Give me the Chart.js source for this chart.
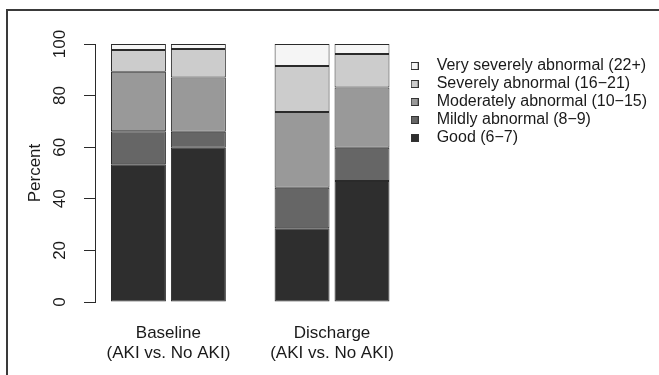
<!DOCTYPE html>
<html>
<head>
<meta charset="utf-8">
<title>Percent by category, baseline and discharge</title>
<script src="https://cdn.jsdelivr.net/npm/chart.js@4.4.1/dist/chart.umd.min.js"></script>
<style>
  html, body { margin: 0; padding: 0; background: #fff; overflow: hidden; }
  #wrap { position: relative; width: 659px; height: 375px; }
  #frame {
    position: absolute; left: 6px; top: 9px; width: 700px; height: 400px;
    border-left: 2px solid #3a3a3a; border-top: 2px solid #3a3a3a;
    pointer-events: none;
  }
</style>
</head>
<body>
<div id="wrap">
  <canvas id="chart" width="659" height="375"></canvas>
  <div id="frame"></div>
</div>
<script>
// categories (x groups) and levels (stack segments, bottom to top)
const groups = [
  ['Baseline', '(AKI vs. No AKI)'],
  ['Discharge', '(AKI vs. No AKI)']
];
const levels = [
  'Good (6\u22127)',
  'Mildly abnormal (8\u22129)',
  'Moderately abnormal (10\u221215)',
  'Severely abnormal (16\u221221)',
  'Very severely abnormal (22+)'
];
const levelColors = ['#2e2e2e', '#666666', '#999999', '#cccccc', '#f5f5f5'];

// percent per level, one array per bar
const baselineAki = [53.4, 12.8, 23.0, 8.5, 2.3];
const baselineNoAki = [59.8, 6.2, 21.0, 11.1, 1.9];
const dischargeAki = [28.6, 15.7, 29.3, 17.9, 8.5];
const dischargeNoAki = [46.9, 12.9, 23.3, 13.0, 3.9];

const yTicks = [0, 20, 40, 60, 80, 100];

const bars = {
  AKI: [baselineAki, dischargeAki],
  NoAKI: [baselineNoAki, dischargeNoAki]
};

const textColor = '#1a1a1a';
const lineColor = '#2a2a2a';
const font = 'Liberation Sans, Arial, Helvetica, sans-serif';

const datasets = [];
Object.keys(bars).forEach((stack) => {
  levels.forEach((level, li) => {
    datasets.push({
      label: level,
      stack: stack,
      data: groups.map((g, gi) => ({ x: gi, y: bars[stack][gi][li] })),
      backgroundColor: levelColors[li],
      borderColor: lineColor,
      borderWidth: 1,
      borderSkipped: false,
      categoryPercentage: 0.7326,
      barPercentage: 0.9167
    });
  });
});

// small filled square with a dark edge, used as legend key
function swatch(color) {
  const c = document.createElement('canvas');
  c.width = 8; c.height = 8;
  const g = c.getContext('2d');
  g.fillStyle = color;
  g.fillRect(0, 0, 8, 8);
  g.strokeStyle = '#333';
  g.lineWidth = 1;
  g.strokeRect(0.5, 0.5, 7, 7);
  return c;
}

Chart.defaults.font.family = font;
Chart.defaults.color = textColor;

new Chart(document.getElementById('chart'), {
  type: 'bar',
  data: { datasets: datasets },
  options: {
    responsive: false,
    animation: false,
    layout: { padding: { left: 21, top: 44, right: 2, bottom: 0 } },
    plugins: {
      tooltip: { enabled: false },
      legend: {
        position: 'right',
        align: 'start',
        fullSize: false,
        maxWidth: 320,
        title: { display: true, text: '', font: { size: 10, lineHeight: 1 }, padding: { top: 0, bottom: 2 } },
        labels: {
          usePointStyle: true,
          pointStyleWidth: 28,
          padding: 2,
          color: textColor,
          font: { size: 16 },
          generateLabels: (chart) => levels.map((level, li) => ({
            text: level,
            fillStyle: levelColors[li],
            strokeStyle: '#333',
            lineWidth: 1,
            pointStyle: swatch(levelColors[li]),
            hidden: false,
            datasetIndex: li
          })).reverse()
        }
      }
    },
    scales: {
      x: {
        type: 'linear',
        offset: false,
        bounds: 'data',
        min: -0.4487,
        max: 1.4072,
        grid: { display: false, drawTicks: false },
        border: { display: false },
        afterBuildTicks: (scale) => { scale.ticks = groups.map((g, i) => ({ value: i })); },
        afterFit: (scale) => { scale.height = 73; },
        ticks: {
          autoSkip: false,
          maxRotation: 0,
          padding: 21,
          color: textColor,
          font: { size: 17, lineHeight: 1.18 },
          callback: (value) => groups[value]
        }
      },
      y: {
        stacked: true,
        min: 0,
        max: 100,
        afterBuildTicks: (scale) => { scale.ticks = yTicks.map((v) => ({ value: v })); },
        afterFit: (scale) => { scale.width = 74; },
        grid: { drawOnChartArea: false, tickLength: 11, color: lineColor },
        border: { color: lineColor },
        ticks: {
          minRotation: 90,
          maxRotation: 90,
          crossAlign: 'center',
          padding: 10,
          color: textColor,
          font: { size: 17 }
        },
        title: {
          display: true,
          text: 'Percent',
          color: textColor,
          font: { size: 17 },
          padding: { top: 4, bottom: 0 }
        }
      }
    }
  }
});
</script>
</body>
</html>
